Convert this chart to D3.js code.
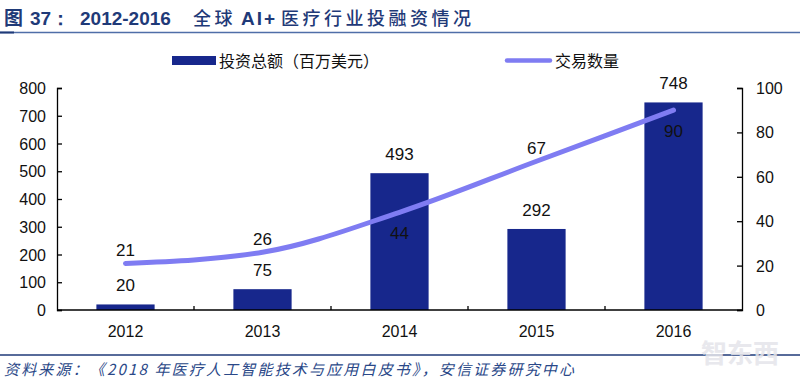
<!DOCTYPE html>
<html><head><meta charset="utf-8">
<script src="https://cdn.jsdelivr.net/npm/d3@7"></script>
<style>body{margin:0;background:#fff;} svg{display:block;}</style>
</head><body>
<svg id="c" width="800" height="382"></svg>
<script>
const categories = ["2012","2013","2014","2015","2016"];
const investment = [20,75,493,292,748];
const deals = [21,26,44,67,90];
const leftTicks = [0,100,200,300,400,500,600,700,800];
const rightTicks = [0,20,40,60,80,100];
const dealLabelBelow = [false,false,true,false,true];

const svg = d3.select("#c");
const W=800,H=382;
const m={l:57,r:742,t:88,b:310};
const font="Arial, 'Liberation Sans', sans-serif";
const cjk="'Noto Sans CJK SC', sans-serif";
const barColor="#17278c", lineColor="#7f7cf2", navy="#1f3a78";

// title
const t=svg.append("text").attr("y",25).attr("font-weight","bold").attr("fill",navy).attr("font-size",19);
t.append("tspan").attr("x",4).attr("font-family",cjk).text("图");
t.append("tspan").attr("x",30).attr("font-family",font).text("37：");
t.append("tspan").attr("x",80).attr("font-family",font).text("2012-2016");
t.append("tspan").attr("x",193).attr("font-family",cjk).attr("font-weight","500").attr("font-size",18).attr("letter-spacing",3.5).text("全球");
t.append("tspan").attr("x",241).attr("font-family",font).attr("letter-spacing",2).text("AI+");
t.append("tspan").attr("x",281).attr("font-family",cjk).attr("font-weight","500").attr("font-size",18).attr("letter-spacing",3.5).text("医疗行业投融资情况");
svg.append("line").attr("x1",0).attr("x2",W).attr("y1",32.5).attr("y2",32.5).attr("stroke","#4f6ea8").attr("stroke-width",1.5);
svg.append("line").attr("x1",0).attr("x2",14).attr("y1",32.5).attr("y2",32.5).attr("stroke",navy).attr("stroke-width",2);

const x=d3.scaleBand().domain(categories).range([m.l,m.r]).paddingInner(0.575).paddingOuter(0.2875);
const yL=d3.scaleLinear().domain([0,800]).range([m.b,m.t]);
const yR=d3.scaleLinear().domain([0,100]).range([m.b,m.t]);
const xc=d=>x(d)+x.bandwidth()/2;

// bars
svg.selectAll("rect.bar").data(categories).join("rect").attr("class","bar")
  .attr("x",d=>x(d)).attr("width",x.bandwidth())
  .attr("y",(d,i)=>yL(investment[i])).attr("height",(d,i)=>m.b-yL(investment[i]))
  .attr("fill",barColor);

// axes
const axL=svg.append("g").attr("transform",`translate(${m.l},0)`)
  .call(d3.axisRight(yL).tickValues(leftTicks).tickSize(5).tickFormat(""));
const axR=svg.append("g").attr("transform",`translate(${m.r},0)`)
  .call(d3.axisLeft(yR).tickValues(rightTicks).tickSize(5).tickFormat(""));
[axL,axR].forEach(a=>{a.selectAll("path,line").attr("stroke","#000").attr("stroke-width",1.3);});
svg.append("line").attr("x1",m.l).attr("x2",m.r).attr("y1",m.b).attr("y2",m.b).attr("stroke","#000").attr("stroke-width",1.3);
svg.selectAll("line.ct").data(d3.range(1,categories.length)).join("line").attr("class","ct")
  .attr("x1",i=>m.l+i*(m.r-m.l)/categories.length).attr("x2",i=>m.l+i*(m.r-m.l)/categories.length)
  .attr("y1",m.b).attr("y2",m.b-4).attr("stroke","#000").attr("stroke-width",1.3);

svg.append("g").selectAll("text").data(leftTicks).join("text")
  .attr("x",46).attr("y",d=>yL(d)+6).attr("text-anchor","end")
  .attr("font-family",font).attr("font-size",16).attr("fill","#111").text(d=>d);
svg.append("g").selectAll("text").data(rightTicks).join("text")
  .attr("x",756).attr("y",d=>yR(d)+6).attr("text-anchor","start")
  .attr("font-family",font).attr("font-size",16).attr("fill","#111").text(d=>d);
svg.append("g").selectAll("text").data(categories).join("text")
  .attr("x",d=>xc(d)).attr("y",337).attr("text-anchor","middle")
  .attr("font-family",font).attr("font-size",16).attr("fill","#111").text(d=>d);

// line
const line=d3.line().x((d,i)=>xc(categories[i])).y(d=>yR(d)).curve(d3.curveMonotoneX);
svg.append("path").datum(deals).attr("d",line).attr("fill","none")
  .attr("stroke",lineColor).attr("stroke-width",5).attr("stroke-linecap","round");

// bar labels
svg.append("g").selectAll("text").data(categories).join("text")
  .attr("x",d=>xc(d)).attr("y",(d,i)=>yL(investment[i])-13).attr("text-anchor","middle")
  .attr("font-family",font).attr("font-size",17).attr("fill","#111").text((d,i)=>investment[i]);
// line labels
svg.append("g").selectAll("text").data(categories).join("text")
  .attr("x",d=>xc(d)).attr("y",(d,i)=>dealLabelBelow[i]?yR(deals[i])+27:yR(deals[i])-7).attr("text-anchor","middle")
  .attr("font-family",font).attr("font-size",17).attr("fill","#111").text((d,i)=>deals[i]);

// legend
svg.append("rect").attr("x",172).attr("y",56).attr("width",44).attr("height",9).attr("fill",barColor);
svg.append("text").attr("x",219).attr("y",67).attr("font-family",cjk).attr("font-size",16).attr("fill","#111").text("投资总额（百万美元）");
svg.append("line").attr("x1",507).attr("x2",550).attr("y1",60.5).attr("y2",60.5).attr("stroke",lineColor).attr("stroke-width",4.5).attr("stroke-linecap","round");
svg.append("text").attr("x",555).attr("y",67).attr("font-family",cjk).attr("font-size",16).attr("fill","#111").text("交易数量");

// footer
svg.append("line").attr("x1",0).attr("x2",W).attr("y1",355).attr("y2",355).attr("stroke",navy).attr("stroke-width",1.5);
svg.append("text").attr("x",4).attr("y",375).attr("font-family",cjk).attr("font-style","italic")
  .attr("font-size",15).attr("fill","#2a4888").attr("textLength",570).attr("lengthAdjust","spacing")
  .text("资料来源：《2018 年医疗人工智能技术与应用白皮书》，安信证券研究中心");
// watermark
svg.append("text").attr("x",740).attr("y",363).attr("text-anchor","middle").attr("font-family",cjk).attr("font-weight","bold")
  .attr("font-size",26).attr("fill","#e4e4ea").attr("opacity",0.85).text("智东西");
</script>
</body></html>
